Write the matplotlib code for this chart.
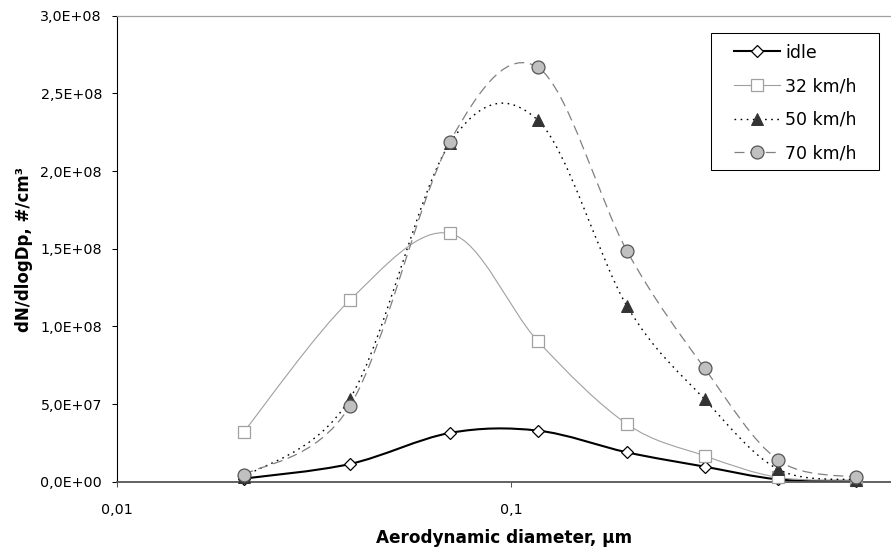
import matplotlib
matplotlib.use("Agg")
import matplotlib.pyplot as pl
from matplotlib.path import Path
from matplotlib.patches import PathPatch, Rectangle
from matplotlib.lines import Line2D
from matplotlib.ticker import FixedLocator, FuncFormatter, NullLocator
import numpy as np

# aerodynamic diameter (um) and dN/dlogDp (#/cm3)
diameters = [0.021, 0.039, 0.070, 0.117, 0.197, 0.31, 0.476, 0.75]
idle = [2.0e6, 1.14e7, 3.14e7, 3.29e7, 1.89e7, 9.7e6, 1.5e6, 2e5]
speed32 = [3.22e7, 1.169e8, 1.598e8, 9.05e7, 3.71e7, 1.67e7, 2.8e6, 1.0e6]
speed50 = [3.0e6, 5.35e7, 2.18e8, 2.327e8, 1.13e8, 5.3e7, 8.0e6, 1.2e6]
speed70 = [4.3e6, 4.87e7, 2.19e8, 2.667e8, 1.485e8, 7.3e7, 1.4e7, 2.8e6]
labels = ["idle", "32 km/h", "50 km/h", "70 km/h"]

yTicks = np.arange(0, 3.01e8, 5e7)
xTicks = [0.01, 0.1, 1]

W, H = 891, 549

def smoothPath(xs, ys):
	# excel-like smoothed line: bezier segments built in (log x, y) space
	lx = np.log10(xs)
	y = np.asarray(ys, dtype=float)
	n = len(lx)
	verts = [(xs[0], y[0])]
	codes = [Path.MOVETO]
	for i in range(n - 1):
		i0 = max(i - 1, 0)
		i3 = min(i + 2, n - 1)
		c1x = lx[i] + (lx[i + 1] - lx[i0]) / 6
		c1y = y[i] + (y[i + 1] - y[i0]) / 6
		c2x = lx[i + 1] - (lx[i3] - lx[i]) / 6
		c2y = y[i + 1] - (y[i3] - y[i]) / 6
		verts += [(10**c1x, c1y), (10**c2x, c2y), (xs[i + 1], y[i + 1])]
		codes += [Path.CURVE4] * 3
	return Path(verts, codes)

styles = [
	dict(line=dict(color="black", lw=1.5, ls="-"),
		marker=dict(marker="D", ms=5.8, mfc="white", mec="black", mew=0.9)),
	dict(line=dict(color="#a0a0a0", lw=0.8, ls="-"),
		marker=dict(marker="s", ms=8, mfc="white", mec="#a0a0a0", mew=0.9)),
	dict(line=dict(color="black", lw=1.0, ls=(0, (1.2, 3.2))),
		marker=dict(marker="^", ms=9, mfc="#333333", mec="#333333", mew=0.7)),
	dict(line=dict(color="#808080", lw=0.9, ls=(0, (8, 4.5))),
		marker=dict(marker="o", ms=9.3, mfc="#c0c0c0", mec="#555555", mew=0.9)),
]

figure = pl.figure(figsize=(W / 100, H / 100), dpi=100)
axes = figure.add_axes([117 / W, 1 - 481.7 / H, 774 / W, 466 / H])
axes.set_xscale("log")

handles = []
for i, series in enumerate([idle, speed32, speed50, speed70]):
	st = styles[i]
	patch = PathPatch(smoothPath(diameters, series), facecolor="none",
						edgecolor=st["line"]["color"], linewidth=st["line"]["lw"],
						linestyle=st["line"]["ls"], zorder=2 + 2 * i)
	axes.add_patch(patch)
	axes.plot(diameters, series, linestyle="none", zorder=3 + 2 * i, clip_on=False,
				**st["marker"])
	handles.append(Line2D([], [], color=st["line"]["color"], linewidth=st["line"]["lw"],
							linestyle=st["line"]["ls"], **st["marker"]))

axes.set_xlim(0.01, 10**(-2 + 774 / 394))
axes.set_ylim(0, 3e8)

axes.xaxis.set_major_locator(FixedLocator(xTicks))
axes.xaxis.set_minor_locator(NullLocator())
axes.xaxis.set_major_formatter(FuncFormatter(lambda v, p: f"{v:g}".replace(".", ",")))
axes.yaxis.set_major_locator(FixedLocator(yTicks))
axes.yaxis.set_major_formatter(FuncFormatter(lambda v, p: f"{v:.1E}".replace(".", ",")))

axes.tick_params(axis="y", direction="out", length=3.3, width=0.75, color="black",
					labelsize=10.3, pad=7.5)
axes.tick_params(axis="x", direction="out", length=3.5, width=0.75, color="#555555",
					labelsize=10.3, pad=12)

axes.spines["right"].set_visible(False)
axes.spines["top"].set_color("#a0a0a0")
axes.spines["top"].set_linewidth(0.9)
axes.spines["left"].set_color("black")
axes.spines["left"].set_linewidth(0.8)
axes.spines["bottom"].set_color("#555555")
axes.spines["bottom"].set_linewidth(1.3)

axes.set_xlabel("Aerodynamic diameter, µm", fontsize=12.2, fontweight="bold")
axes.xaxis.set_label_coords(0.5, (481.7 - 529) / 466)
axes.set_ylabel("dN/dlogDp, #/cm³", fontsize=12, fontweight="bold")
axes.yaxis.set_label_coords((33 - 117) / 774, (481.7 - 250) / 466)

frame = Rectangle((710.7 / W, 1 - 170 / H), 168 / W, 136.7 / H, transform=figure.transFigure,
					facecolor="white", edgecolor="black", linewidth=0.75, zorder=20)
figure.patches.append(frame)
legend = figure.legend(handles, labels, loc="upper left", frameon=False, fontsize=12.5,
						bbox_to_anchor=(734 / W, 1 - 43.5 / H), borderaxespad=0, borderpad=0,
						handlelength=2.64, handletextpad=0.3, labelspacing=0.9, numpoints=1)
legend.set_zorder(21)

figure.savefig("out.png", dpi=100)
